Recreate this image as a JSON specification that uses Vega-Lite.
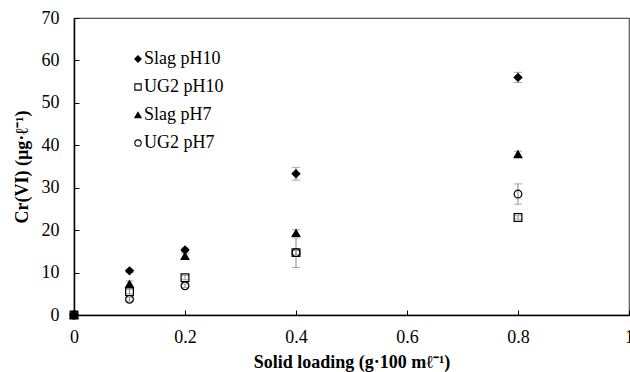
{
  "$schema": "https://vega.github.io/schema/vega-lite/v6.json",
  "width": 555,
  "height": 297,
  "autosize": {"type": "none"},
  "padding": {"left": 74, "top": 18, "right": 1, "bottom": 57},
  "background": "white",
  "config": {
    "view": {"stroke": "#555", "strokeWidth": 1.2},
    "font": "Liberation Serif"
  },
  "data": {
    "values": [
      {"load": 0, "series": "Slag pH10", "cr": 0, "lo": 0, "hi": 0},
      {"load": 0.1, "series": "Slag pH10", "cr": 10.4, "lo": 10.0, "hi": 10.8},
      {"load": 0.2, "series": "Slag pH10", "cr": 15.3, "lo": 14.8, "hi": 15.8},
      {"load": 0.4, "series": "Slag pH10", "cr": 33.3, "lo": 31.8, "hi": 34.8},
      {"load": 0.8, "series": "Slag pH10", "cr": 56.0, "lo": 54.8, "hi": 57.2},
      {"load": 0, "series": "UG2 pH10", "cr": 0, "lo": 0, "hi": 0},
      {"load": 0.1, "series": "UG2 pH10", "cr": 5.5, "lo": 5.0, "hi": 6.0},
      {"load": 0.2, "series": "UG2 pH10", "cr": 8.8, "lo": 8.3, "hi": 9.3},
      {"load": 0.4, "series": "UG2 pH10", "cr": 14.7, "lo": 14.2, "hi": 15.2},
      {"load": 0.8, "series": "UG2 pH10", "cr": 23.0, "lo": 22.6, "hi": 23.4},
      {"load": 0, "series": "Slag pH7", "cr": 0, "lo": 0, "hi": 0},
      {"load": 0.1, "series": "Slag pH7", "cr": 7.3, "lo": 6.6, "hi": 8.0},
      {"load": 0.2, "series": "Slag pH7", "cr": 13.9, "lo": 13.4, "hi": 14.4},
      {"load": 0.4, "series": "Slag pH7", "cr": 19.3, "lo": 18.5, "hi": 20.1},
      {"load": 0.8, "series": "Slag pH7", "cr": 37.9, "lo": 37.2, "hi": 38.6},
      {"load": 0, "series": "UG2 pH7", "cr": 0, "lo": 0, "hi": 0},
      {"load": 0.1, "series": "UG2 pH7", "cr": 3.7, "lo": 3.3, "hi": 4.1},
      {"load": 0.2, "series": "UG2 pH7", "cr": 6.9, "lo": 6.5, "hi": 7.3},
      {"load": 0.4, "series": "UG2 pH7", "cr": 14.7, "lo": 11.2, "hi": 18.2},
      {"load": 0.8, "series": "UG2 pH7", "cr": 28.5, "lo": 26.1, "hi": 30.9}
    ]
  },
  "encoding": {
    "x": {
      "field": "load", "type": "quantitative",
      "scale": {"domain": [0, 1], "nice": false},
      "axis": {
        "values": [0, 0.2, 0.4, 0.6, 0.8, 1],
        "format": "~g",
        "title": "Solid loading (g·100 mℓ⁻¹)",
        "titleFont": "Liberation Serif", "titleFontSize": 18, "titleFontWeight": "bold", "titleColor": "black",
        "titlePadding": 7,
        "labelFont": "Liberation Serif", "labelFontSize": 18, "labelColor": "black",
        "labelPadding": 18, "labelFlush": false, "labelOverlap": false,
        "grid": false, "domainColor": "black", "domainWidth": 1.5,
        "tickColor": "black", "tickSize": -5, "tickWidth": 1
      }
    },
    "y": {
      "field": "cr", "type": "quantitative",
      "scale": {"domain": [0, 70], "nice": false},
      "axis": {
        "values": [0, 10, 20, 30, 40, 50, 60, 70],
        "title": "Cr(VI) (µg·ℓ⁻¹)",
        "titleFont": "Liberation Serif", "titleFontSize": 18, "titleFontWeight": "bold", "titleColor": "black",
        "titlePadding": 10,
        "labelFont": "Liberation Serif", "labelFontSize": 18, "labelColor": "black",
        "labelPadding": 20, "labelOverlap": false,
        "grid": false, "domainColor": "black", "domainWidth": 1.5,
        "tickColor": "black", "tickSize": -5, "tickWidth": 1
      }
    }
  },
  "layer": [
    {
      "mark": {"type": "errorbar", "ticks": {"size": 8, "color": "#888"}, "rule": {"color": "#888"}},
      "encoding": {
        "y": {"field": "lo", "type": "quantitative"},
        "y2": {"field": "hi"}
      }
    },
    {
      "mark": {"type": "point", "filled": false, "stroke": "black", "strokeWidth": 1.2, "opacity": 1, "size": 60, "clip": false},
      "encoding": {
        "shape": {
          "field": "series", "type": "nominal",
          "sort": ["Slag pH10", "UG2 pH10", "Slag pH7", "UG2 pH7"],
          "scale": {"domain": ["Slag pH10", "UG2 pH10", "Slag pH7", "UG2 pH7"], "range": ["diamond", "square", "triangle-up", "circle"]},
          "legend": {
            "title": null, "orient": "none", "legendX": 55, "legendY": 32,
            "labelFont": "Liberation Serif", "labelFontSize": 18, "labelColor": "black",
            "rowPadding": 10, "symbolSize": 40, "symbolStrokeColor": "black", "symbolStrokeWidth": 1.1,
            "labelOffset": -3, "padding": 0,
            "symbolOpacity": 1,
            "encode": {"symbols": {"update": {"stroke": {"value": "black"}, "strokeWidth": {"value": 1.1}, "opacity": {"value": 1}}}}
          }
        },
        "fill": {
          "field": "series", "type": "nominal",
          "scale": {"domain": ["Slag pH10", "UG2 pH10", "Slag pH7", "UG2 pH7"], "range": ["black", "transparent", "black", "transparent"]},
          "legend": {
            "title": null, "orient": "none", "legendX": 55, "legendY": 32,
            "labelFont": "Liberation Serif", "labelFontSize": 18, "labelColor": "black",
            "rowPadding": 10, "symbolSize": 40, "symbolStrokeColor": "black", "symbolStrokeWidth": 1.1,
            "labelOffset": -3, "padding": 0,
            "symbolOpacity": 1,
            "encode": {"symbols": {"update": {"stroke": {"value": "black"}, "strokeWidth": {"value": 1.1}, "opacity": {"value": 1}}}}
          }
        },
        "order": {"field": "series"}
      }
    }
  ]
}
